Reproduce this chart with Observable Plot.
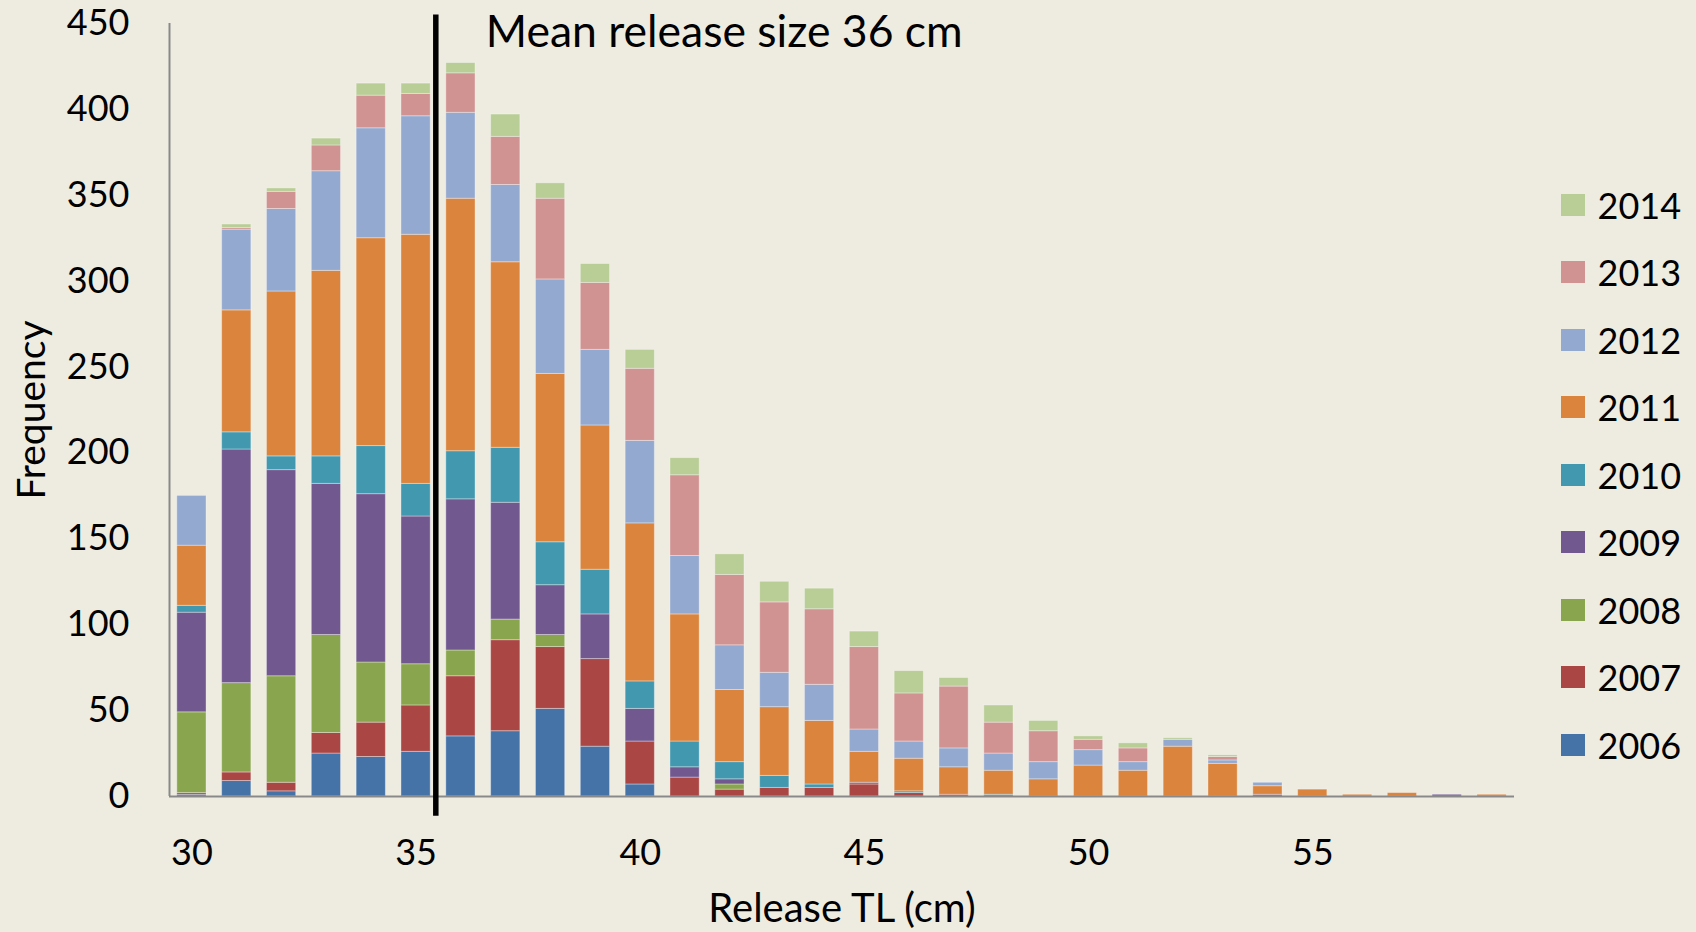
<!DOCTYPE html>
<html>
<head>
<meta charset="utf-8">
<script src="https://cdn.jsdelivr.net/npm/d3@7"></script>
<script src="https://cdn.jsdelivr.net/npm/@observablehq/plot@0.6"></script>
<style>
  html, body { margin: 0; padding: 0; background: #EEECE1; }
  #wrap { position: relative; width: 1696px; height: 932px; background: #EEECE1; overflow: hidden; }
  #wrap svg.plotmain { position: absolute; left: 0; top: 0; }
  .yl-swatches { position: absolute; left: 1561px; top: 171px; margin: 0 !important;
    font-family: Lato, sans-serif !important; font-size: 36px !important; color: #000; }
  .yl-swatch { height: 67.5px; display: flex !important; align-items: center; padding: 0 !important; }
  .yl-swatch > svg { margin-right: 12.5px !important; }
</style>
</head>
<body>
<div id="wrap"></div>
<script>
// Release total length classes (cm)
const tl = [30,31,32,33,34,35,36,37,38,39,40,41,42,43,44,45,46,47,48,49,50,51,52,53,54,55,56,57,58,59];
// Series (frequency per TL class), bottom to top of the stack
const y2006 = [1,9,3,25,23,26,35,38,51,29,7,0,0,0,0,0,0,0,0,0,0,0,0,0,0,0,0,0,0,0];
const y2007 = [1,5,5,12,20,27,35,53,36,51,25,11,4,5,5,7,2,1,0,0,0,0,0,0,0,0,0,0,0,0];
const y2008 = [47,52,62,57,35,24,15,12,7,0,0,0,3,0,0,0,0,0,0,0,0,0,0,0,0,0,0,0,0,0];
const y2009 = [58,136,120,88,98,86,88,68,29,26,19,6,3,0,0,1,0,0,0,0,0,0,0,0,1,0,0,0,1,0];
const y2010 = [4,10,8,16,28,19,28,32,25,26,16,15,10,7,2,0,1,0,1,0,0,0,0,0,0,0,0,0,0,0];
const y2011 = [35,71,96,108,121,145,147,108,98,84,92,74,42,40,37,18,19,16,14,10,18,15,29,19,5,4,1,2,0,1];
const y2012 = [29,47,48,58,64,69,50,45,55,44,48,34,26,20,21,13,10,11,10,10,9,5,4,2,2,0,0,0,0,0];
const y2013 = [0,1,10,15,19,13,23,28,47,39,42,47,41,41,44,48,28,36,18,18,6,8,0,2,0,0,0,0,0,0];
const y2014 = [0,2,2,4,7,6,6,13,9,11,11,10,12,12,12,9,13,5,10,6,2,3,1,1,0,0,0,0,0,0];

const years = ["2006","2007","2008","2009","2010","2011","2012","2013","2014"];
const colors = ["#4572A7","#AA4643","#89A54E","#71588F","#4198AF","#DB843D","#93A9CF","#D19392","#B9CD96"];
const xTicks = [30,35,40,45,50,55];
const yTicks = [0,50,100,150,200,250,300,350,400,450];

// Mean release size annotation (line position on the TL axis, and its vertical extent)
const meanLabel = "Mean release size 36 cm";
const meanLinePos = 35.44;
const meanLineTop = 455;
const meanLineBottom = -11.5;

const series = [y2006,y2007,y2008,y2009,y2010,y2011,y2012,y2013,y2014];
const rows = [];
series.forEach((vals, i) => {
  vals.forEach((v, j) => { if (v > 0) rows.push({tl: tl[j], year: years[i], value: v}); });
});

const FONT = "Lato, sans-serif";
const axisColor = "#898989";

const chart = Plot.plot({
  width: 1696,
  height: 932,
  marginLeft: 169,
  marginRight: 182,
  marginTop: 23,
  marginBottom: 136,
  style: { fontFamily: FONT, fontSize: "36px", color: "#000", background: "transparent", overflow: "visible" },
  x: { type: "linear", domain: [d3.min(tl) - 0.5, d3.max(tl) + 0.5], ticks: xTicks, tickSize: 0, tickPadding: 43, label: null, tickFormat: d => String(d) },
  y: { domain: [0, 450], ticks: yTicks, tickSize: 0, tickPadding: 40, label: null, tickFormat: d => String(d) },
  color: { type: "ordinal", domain: years, range: colors },
  marks: [
    Plot.rectY(rows, Plot.stackY({
      x1: d => d.tl - 0.5, x2: d => d.tl + 0.5, y: "value", fill: "year", z: "year",
      order: years,
      insetLeft: 7.8, insetRight: 7.8,
      stroke: "#ffffff", strokeOpacity: 0.35, strokeWidth: 1
    })),
    Plot.ruleY([0], { stroke: axisColor, strokeWidth: 2 }),
    Plot.ruleX([d3.min(tl) - 0.5], { y1: 0, y2: 450, stroke: axisColor, strokeWidth: 2 }),
    Plot.ruleX([meanLinePos], { y1: meanLineBottom, y2: meanLineTop, stroke: "#000", strokeWidth: 5.5 }),
    Plot.text([meanLabel], { x: meanLinePos, y: 450, dx: 50, dy: 9, text: d => d, textAnchor: "start", lineAnchor: "middle", fontSize: 44.5, fill: "#000" }),
    Plot.text(["Frequency"], { frameAnchor: "left", dx: -137, rotate: -90, text: d => d, textAnchor: "middle", lineAnchor: "middle", fontSize: 39, fill: "#000" }),
    Plot.text(["Release TL (cm)"], { frameAnchor: "bottom", dy: 112.5, text: d => d, textAnchor: "middle", lineAnchor: "middle", fontSize: 40, fill: "#000" })
  ]
});
chart.classList.add("plotmain");
document.getElementById("wrap").appendChild(chart);

const legend = Plot.legend({
  color: { type: "ordinal", domain: years.slice().reverse(), range: colors.slice().reverse() },
  legend: "swatches",
  columns: 1,
  swatchWidth: 24,
  swatchHeight: 22,
  className: "yl"
});
document.getElementById("wrap").appendChild(legend);
</script>
</body>
</html>
